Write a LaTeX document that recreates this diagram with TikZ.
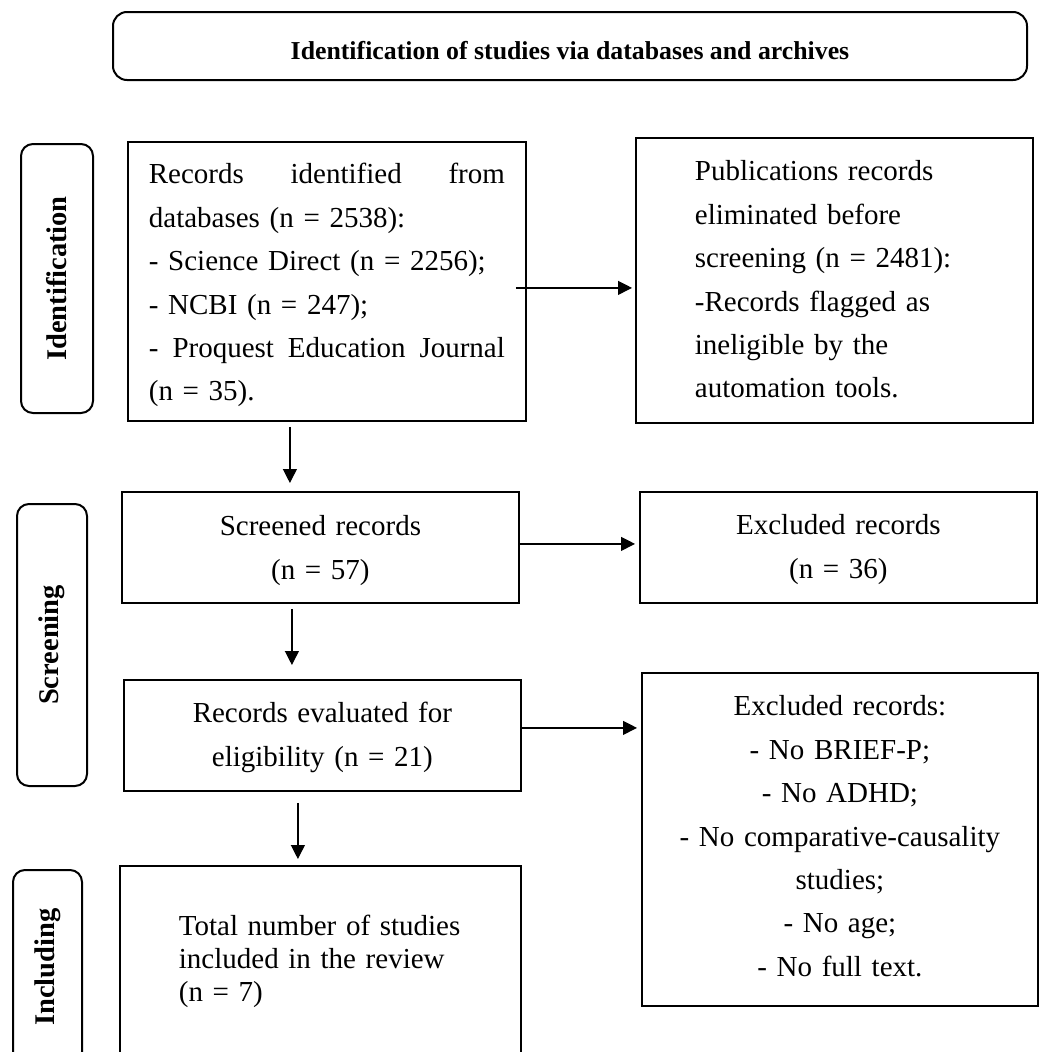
\documentclass[tikz,border=0pt]{standalone}
\usepackage{fontspec}
\setmainfont{Liberation Serif}
\usetikzlibrary{arrows.meta}
\setlength{\parindent}{0pt}
\newcommand{\bodyfont}{\fontsize{29}{43.4}\selectfont}
\newcommand{\incfont}{\fontsize{29}{33}\selectfont}
\newcommand{\labelfont}{\fontsize{28.5}{32}\selectfont\bfseries}
\newcommand{\titlefont}{\fontsize{25.8}{30}\selectfont\bfseries}
\tikzset{
  box/.style={draw, line width=1.8pt, inner ysep=0pt, anchor=north west, font=\bodyfont},
  lab/.style={draw, line width=2pt, rounded corners=12pt, rotate=90, inner sep=0pt, font=\labelfont},
  arr/.style={-{Triangle[length=14pt,width=14pt]}, line width=1.2pt}
}
\begin{document}
\begin{tikzpicture}[x=1pt, y=-1pt]
\useasboundingbox (0,0) rectangle (1044,1052);
\clip (0,0) rectangle (1044,1052);

\node[draw, line width=2pt, rounded corners=14pt, minimum width=914pt, minimum height=68pt,
      font=\titlefont, text height=26pt, text depth=0pt] (title) at (570,46)
  {Identification of studies via databases and archives};

\node[lab, minimum width=269pt, minimum height=72pt] (lid) at (57,278.5) {Identification};
\node[lab, minimum width=282pt, minimum height=70pt] (lsc) at (52,645) {Screening};
\node[lab, minimum width=194pt, minimum height=69pt] (lin) at (47.5,967) {Including};

\node[box, text width=356pt, inner xsep=21pt, text height=42pt, text depth=237pt, align=left] (rec) at (127,141)
  {Records\hfill identified\hfill from\\
   databases (n = 2538):\\
   - Science Direct (n = 2256);\\
   - NCBI (n = 247);\\
   -\hfill Proquest\hfill Education\hfill Journal\\
   (n = 35).};

\node[box, text width=279pt, inner xsep=59pt, text height=43pt, text depth=242pt, align=left] (pub) at (635,137)
  {Publications records\\
   eliminated before\\
   screening (n = 2481):\\
   -Records flagged as\\
   ineligible by the\\
   automation tools.};

\node[box, text width=365pt, inner xsep=16pt, text height=44pt, text depth=67pt, align=center] (scr) at (121,491)
  {Screened records\\ (n = 57)};

\node[box, text width=365pt, inner xsep=16pt, text height=43pt, text depth=68pt, align=center] (ex1) at (639,491)
  {Excluded records\\ (n = 36)};

\node[box, text width=365pt, inner xsep=16pt, text height=43pt, text depth=68pt, align=center] (eva) at (123,679)
  {Records evaluated for\\ eligibility (n = 21)};

\node[box, text width=364pt, inner xsep=16pt, text height=43pt, text depth=290pt, align=center] (ex2) at (641,672)
  {Excluded records:\\
   - No BRIEF-P;\\
   - No ADHD;\\
   - No comparative-causality\\
   studies;\\
   - No age;\\
   - No full text.};

\node[box, font=\incfont, text width=283pt, inner xsep=59pt, text height=70pt, text depth=135pt, align=left] (inc) at (119,865)
  {Total~number~of~studies\\
   included~in~the~review\\
   (n = 7)};

\draw[arr, shorten <=-11pt, shorten >=3pt] ([yshift=-6.5pt]rec.east) -- ([yshift=-6.5pt]rec.east -| pub.west);
\draw[arr, shorten <=5pt, shorten >=8pt] ([xshift=-37pt]rec.south) -- ([xshift=-37pt]rec.south |- scr.north);
\draw[arr, shorten >=4pt] ([yshift=3.5pt]scr.east) -- ([yshift=3.5pt]scr.east -| ex1.west);
\draw[arr, shorten <=5pt, shorten >=14pt] ([xshift=-28.5pt]scr.south) -- ([xshift=-28.5pt]scr.south |- eva.north);
\draw[arr, shorten >=4pt] ([yshift=7.5pt]eva.east) -- ([yshift=7.5pt]eva.east -| ex2.west);
\draw[arr, shorten <=11pt, shorten >=6pt] ([xshift=-24.5pt]eva.south) -- ([xshift=-24.5pt]eva.south |- inc.north);
\end{tikzpicture}
\end{document}
